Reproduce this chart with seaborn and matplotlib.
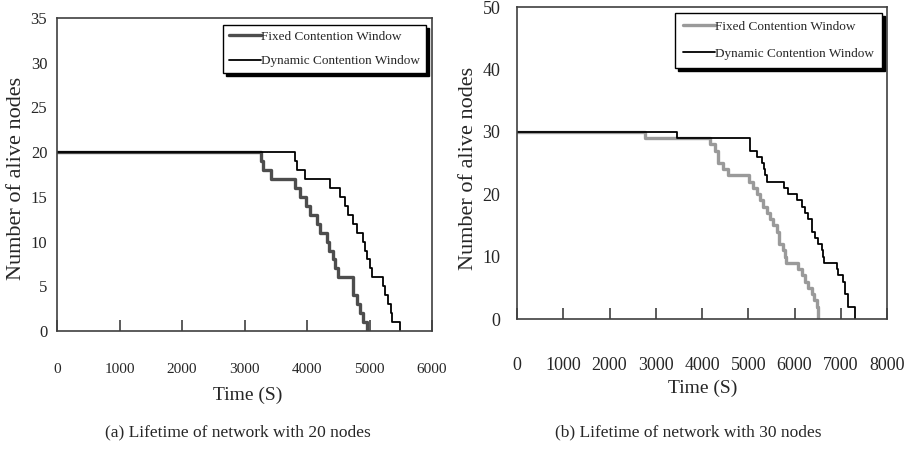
import matplotlib
matplotlib.use("Agg")
import matplotlib.pyplot as plt
import seaborn as sns
import pandas as pd

# ---------------- data ----------------
# (a) 20 nodes: time at which count changes, count after that time
left_fixed_t = [0, 3260, 3290, 3420, 3810, 3890, 3985, 4050, 4155, 4210, 4315,
                4355, 4410, 4450, 4490, 4730, 4795, 4848, 4900, 4965]
left_fixed_n = [20, 19, 18, 17, 16, 15, 14, 13, 12, 11, 10,
                9, 8, 7, 6, 4, 3, 2, 1, 0]
left_dyn_t = [0, 3810, 3845, 3965, 4370, 4530, 4600, 4660, 4730, 4795, 4890,
              4930, 4955, 5005, 5035, 5220, 5250, 5290, 5340, 5355, 5490]
left_dyn_n = [20, 19, 18, 17, 16, 15, 14, 13, 12, 11, 10,
              9, 8, 7, 6, 5, 4, 3, 2, 1, 0]

# (b) 30 nodes
right_fixed_t = [0, 2775, 4173, 4281, 4353, 4461, 4569, 5023, 5095, 5181, 5254,
                 5326, 5398, 5470, 5542, 5614, 5671, 5758, 5790, 5816, 6082,
                 6155, 6227, 6299, 6371, 6421, 6479, 6515]
right_fixed_n = [30, 29, 28, 27, 25, 24, 23, 22, 21, 20, 19,
                 18, 17, 16, 15, 14, 12, 11, 10, 9, 8,
                 7, 6, 5, 4, 3, 2, 0]
right_dyn_t = [0, 3470, 5040, 5180, 5290, 5330, 5360, 5400, 5775, 5865, 6045,
               6155, 6225, 6300, 6370, 6440, 6515, 6585, 6610, 6637, 6910,
               6950, 7040, 7090, 7165, 7310]
right_dyn_n = [30, 29, 27, 26, 25, 24, 23, 22, 21, 20, 19,
               18, 17, 16, 14, 13, 12, 11, 10, 9, 8,
               7, 6, 4, 2, 0]

series_labels = ["Fixed Contention Window", "Dynamic Contention Window"]
xlabel_text = "Time (S)"
ylabel_text = "Number of alive nodes"
captions = ["(a) Lifetime of network with 20 nodes",
            "(b) Lifetime of network with 30 nodes"]
left_xticks = [0, 1000, 2000, 3000, 4000, 5000, 6000]
left_yticks = [0, 5, 10, 15, 20, 25, 30, 35]
right_xticks = [0, 1000, 2000, 3000, 4000, 5000, 6000, 7000, 8000]
right_yticks = [0, 10, 20, 30, 40, 50]

# ---------------- style ----------------
sns.set_style("white")
plt.rcParams["font.family"] = ["Liberation Serif", "DejaVu Serif"]
plt.rcParams["axes.linewidth"] = 1.2
plt.rcParams["axes.edgecolor"] = "#404040"

W, H = 911, 455
fig = plt.figure(figsize=(W / 100, H / 100), dpi=100)
ax1 = fig.add_axes([57 / W, (H - 331) / H, 375 / W, 313 / H])
ax2 = fig.add_axes([517 / W, (H - 319) / H, 370 / W, 312 / H])

# left panel
sns.lineplot(x=left_fixed_t, y=left_fixed_n, ax=ax1, drawstyle="steps-post",
             color="#4d4d4d", linewidth=2.4, estimator=None, sort=False,
             label=series_labels[0])
sns.lineplot(x=left_dyn_t, y=left_dyn_n, ax=ax1, drawstyle="steps-post",
             color="black", linewidth=1.3, estimator=None, sort=False,
             label=series_labels[1])

# right panel
sns.lineplot(x=right_fixed_t, y=right_fixed_n, ax=ax2, drawstyle="steps-post",
             color="#9a9a9a", linewidth=2.4, estimator=None, sort=False,
             label=series_labels[0])
sns.lineplot(x=right_dyn_t, y=right_dyn_n, ax=ax2, drawstyle="steps-post",
             color="black", linewidth=1.3, estimator=None, sort=False,
             label=series_labels[1])

def style_axis(ax, xticks, yticks, xpad, ypad, xfs, yfs, ylab_xy, xlab_xy,
               leg_anchor, lspace, bpad):
    ax.set_xlim(xticks[0], xticks[-1])
    ax.set_ylim(yticks[0], yticks[-1])
    ax.set_xticks(xticks)
    ax.set_yticks(yticks)
    ax.tick_params(axis="x", direction="in", length=8, width=1.2,
                   color="#404040", pad=xpad, labelsize=xfs, bottom=True)
    ax.tick_params(axis="y", length=0, pad=ypad, labelsize=yfs, left=True)
    for s in ax.spines.values():
        s.set_visible(True)
        s.set_color("#404040")
        s.set_linewidth(1.2)
    ax.set_xlabel(xlabel_text, fontsize=14)
    ax.xaxis.set_label_coords(*xlab_xy)
    ax.xaxis.label.set_va("center")
    ax.set_ylabel(ylabel_text, fontsize=16)
    ax.yaxis.set_label_coords(*ylab_xy)
    ax.yaxis.label.set_va("center")
    leg = ax.legend(loc="upper right", bbox_to_anchor=leg_anchor,
                    fontsize=9.5, frameon=True, fancybox=False,
                    shadow={"facecolor": "black", "edgecolor": "black",
                            "alpha": 1.0},
                    handlelength=2.4, handletextpad=0.0, borderpad=bpad,
                    labelspacing=lspace, borderaxespad=0.0)
    fr = leg.get_frame()
    fr.set_edgecolor("black")
    fr.set_linewidth(1.0)
    fr.set_facecolor("white")
    fr.set_alpha(1.0)

style_axis(ax1, left_xticks, left_yticks, xpad=23, ypad=7, xfs=11, yfs=12,
           ylab_xy=(-0.108, 0.489), xlab_xy=(0.509, -0.2045),
           leg_anchor=(0.984, 0.978), lspace=0.9, bpad=0.45)
style_axis(ax2, right_xticks, right_yticks, xpad=27, ypad=12, xfs=13, yfs=13,
           ylab_xy=(-0.132, 0.481), xlab_xy=(0.503, -0.221),
           leg_anchor=(0.986, 0.981), lspace=1.1, bpad=0.6)

fig.text(238 / W, 1 - 432 / H, captions[0], ha="center", va="center",
         fontsize=12.5)
fig.text(688 / W, 1 - 432 / H, captions[1], ha="center", va="center",
         fontsize=12.5)

fig.savefig("out.png", dpi=100)
